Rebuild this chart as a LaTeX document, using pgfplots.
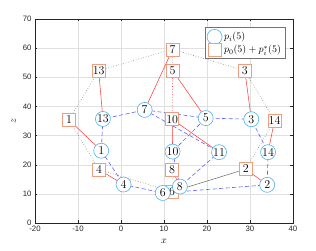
\documentclass[border=0pt]{standalone}
\usepackage{pgfplots}
\pgfplotsset{compat=1.18}
\usepackage{fontspec}
\newfontfamily\ticksf{Liberation Sans}
\usetikzlibrary{calc}
\definecolor{cblue}{rgb}{0.30,0.70,0.93}
\definecolor{csq}{rgb}{0.94,0.62,0.50}
\definecolor{dblue}{rgb}{0.38,0.38,1}
\definecolor{axgray}{rgb}{0.15,0.15,0.15}
\definecolor{lred}{rgb}{1,0.25,0.25}
\begin{document}
\begin{tikzpicture}
\begin{axis}[
  scale only axis, width=258pt, height=204pt,
  xmin=-20, xmax=40, ymin=0, ymax=70,
  xtick={-20,-10,...,40}, ytick={0,10,...,70},
  grid=major, grid style={black!12, line width=0.4pt},
  axis line style={axgray, line width=0.5pt},
  tick style={axgray},
  tick align=inside, major tick length=2.5pt,
  ticklabel style={font=\ticksf\fontsize{7.8}{8}\selectfont, text=axgray},
  /pgf/number format/assume math mode=true,
  xlabel={$x$}, ylabel={$z$},
  label style={font=\normalsize},
  unbounded coords=jump,
  reverse legend,
  legend style={at={(0.97,0.96)}, anchor=north east, draw=black!55, line width=0.5pt,
    font=\normalsize, row sep=-1pt, inner sep=2pt},
  legend cell align=left,
]
% gray dotted tour between squares
\addplot[black!50, dotted, line width=0.6pt, forget plot] coordinates {
 (-12.1,35.4) (-5.2,52.3) (12,59.6) (28.8,52.3) (35.7,35.1) (29,18.5) (nan,nan)
 (-12.1,35.4) (-5.1,18.3) (11.9,10.7) (nan,nan)
 (12,59.6) (12,52.3) (nan,nan)
 (11.9,35.6) (11.9,18.3)
};
\addplot[black!60, solid, line width=0.5pt, forget plot] coordinates {
 (11.9,10.7) (29,18.5)
};
% blue dashed edges between circles
\addplot[dblue, dash pattern=on 4pt off 2.5pt, line width=0.6pt, forget plot] coordinates {
 (-4.2,35.7) (-4.6,24.8) (0.6,13.2) (9.7,10.3) (34,13.1) (34.2,24.3) (30.3,35.6) (19.7,36) (5.5,38.8) (-4.2,35.7) (nan,nan)
 (5.5,38.8) (22.8,24.3) (13.7,12.5) (12,24.5) (19.7,36)
};
% red links circle -> square
\addplot[lred, line width=0.55pt, forget plot] coordinates {
 (-4.6,24.8) (-12.1,35.4) (nan,nan)
 (-4.2,35.7) (-5.2,52.3) (nan,nan)
 (5.5,38.8) (12,59.6) (nan,nan)
 (19.7,36) (12,52.3) (nan,nan)
 (30.3,35.6) (28.8,52.3) (nan,nan)
 (34.2,24.3) (35.7,35.1) (nan,nan)
 (34,13.1) (29,18.5) (nan,nan)
 (0.6,13.2) (-5.1,18.3) (nan,nan)
 (13.7,12.5) (11.9,18.3) (nan,nan)
 (12,24.5) (11.9,35.6) (nan,nan)
 (9.7,10.3) (11.9,10.7) (nan,nan)
 (22.8,24.3) (11.9,35.6)
};
\addplot[lred, dotted, line width=0.7pt, forget plot] coordinates {
 (11.9,35.6) (12,52.3)
};
% squares
\addplot[only marks, mark=square*, mark size=6.5pt,
  mark options={draw=csq, fill=white, line width=0.6pt},
  nodes near coords={$\pgfplotspointmeta$}, point meta=explicit symbolic,
  every node near coord/.append style={anchor=center, inner sep=0pt, font=\fontsize{12.5}{13}\selectfont}]
 table[meta=label] {
x y label
-12.1 35.4 1
29.0 18.5 2
28.8 52.3 3
-5.1 18.3 4
12.0 52.3 5
11.9 10.7 6
12.0 59.6 7
11.9 18.3 8
11.9 35.6 10
-5.2 52.3 13
35.7 35.1 14
};
\addlegendentry{$p_0(5)+p_i^*(5)$}
% circles
\addplot[only marks, mark=*, mark size=7.5pt,
  mark options={draw=cblue, fill=white, line width=0.6pt},
  nodes near coords={$\pgfplotspointmeta$}, point meta=explicit symbolic,
  every node near coord/.append style={anchor=center, inner sep=0pt, font=\fontsize{12.5}{13}\selectfont}]
 table[meta=label] {
x y label
-4.6 24.8 1
34.0 13.1 2
30.3 35.6 3
0.6 13.2 4
19.7 36.0 5
9.7 10.3 6
5.5 38.8 7
13.7 12.5 8
12.0 24.5 10
22.8 24.3 11
-4.2 35.7 13
34.2 24.3 14
};
\addlegendentry{$p_i(5)$}
\end{axis}
\pgfresetboundingbox
\path[use as bounding box] ($(current axis.south west)+(-35pt,-28pt)$) rectangle ($(current axis.north east)+(23pt,19pt)$);
\end{tikzpicture}
\end{document}
